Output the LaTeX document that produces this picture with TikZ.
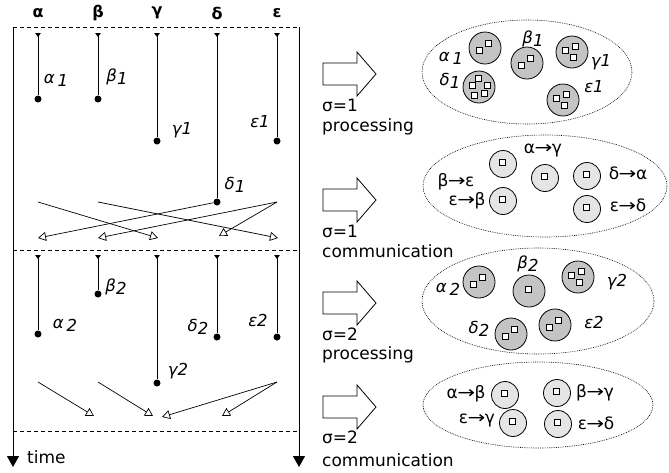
\documentclass[tikz,border=0pt]{standalone}
\usepackage{fontspec}
\setmainfont{DejaVu Sans}
\usetikzlibrary{arrows.meta}

\definecolor{procfill}{gray}{0.77}
\definecolor{commfill}{gray}{0.90}

% a white token square at an offset from a processor's centre
\newcommand\pcsq[3]{\draw[sqr] ([shift={(#2,#3)}]#1.center) +(-3,-3) rectangle +(3,3);}
\newcommand\onesq[1]{\pcsq{#1}{-1}{-2}}
\newcommand\twosq[1]{\pcsq{#1}{-6}{2}\pcsq{#1}{3}{-5}}
\newcommand\threesq[1]{\pcsq{#1}{-7}{-2}\pcsq{#1}{3}{-6}\pcsq{#1}{1}{5}}
\newcommand\fivesq[1]{\pcsq{#1}{-1}{-9}\pcsq{#1}{-7}{-2}\pcsq{#1}{8}{-2}\pcsq{#1}{-5}{8}\pcsq{#1}{5}{6}}
% hollow block arrow centred vertically at #1
\newcommand\blockarrow[1]{\draw[barrow] (323,#1) ++(0,-11) -- ++(34,0) -- ++(0,-11) -- ++(19,22) -- ++(-19,22) -- ++(0,-11) -- ++(-34,0) -- cycle;}
\newcommand\lowsub[1]{\raisebox{-3pt}{#1}}
% message label: source, long arrow, destination
\newcommand\msgto[2]{#1\kern-0.5pt\scalebox{1.25}[1]{→}\kern-0.5pt#2}

\begin{document}
\begin{tikzpicture}[x=1pt,y=-1pt,
  every node/.style={inner sep=0pt},
  frame/.style={line width=1pt,-{Triangle[width=12pt,length=11pt]}},
  phase/.style={line width=0.9pt,dash pattern=on 4pt off 3pt},
  proc/.style={line width=1pt,{Triangle[reversed,width=5.5pt,length=4pt]}-},
  dot/.style={circle,fill=black,minimum size=7pt},
  msg/.style={line width=0.7pt,-{Triangle[open,width=9pt,length=8pt]}},
  hdr/.style={font=\bfseries\fontsize{16}{18}\selectfont},
  lbl/.style={font=\itshape\fontsize{16.5}{18}\selectfont},
  clbl/.style={font=\fontsize{17}{20}\selectfont},
  txt/.style={font=\fontsize{17}{20}\selectfont,anchor=west},
  cloud/.style={line width=0.6pt,dash pattern=on 0.8pt off 1pt},
  pc/.style={circle,draw,line width=0.8pt,fill=procfill,minimum size=32pt},
  cc/.style={circle,draw,line width=0.8pt,fill=commfill,minimum size=27pt},
  sqr/.style={draw,fill=white,line width=0.7pt},
  barrow/.style={draw,line width=0.8pt,fill=white}]
\useasboundingbox (0,0) rectangle (669,472);

% ---------- time lines and phase boundaries ----------
\coordinate (fl0) at (13,27);  \coordinate (fl1) at (13,467);
\coordinate (fr0) at (299,27); \coordinate (fr1) at (299,467);
\draw[frame] (fl0) -- (fl1);
\draw[frame] (fr0) -- (fr1);
\draw[phase] (fl0) -- (fr0);
\coordinate (ml) at (13,250);  \coordinate (mr) at (299,250);
\draw[phase] (ml) -- (mr);
\coordinate (bl) at (13,431);  \coordinate (br) at (299,431);
\draw[phase] (bl) -- (br);
\node[txt] (time) at (27,457) {time};

% ---------- column headers ----------
\node[hdr] (ha) at (38,13) {α};
\node[hdr] (hb) at (98,13) {β};
\node[hdr] (hg) at (157,13) {γ};
\node[hdr] (hd) at (217,13) {δ};
\node[hdr] (he) at (277,13) {ε};

% ---------- superstep 1: processing ----------
\coordinate (a1s) at (38,33);  \node[dot] (a1e) at (38,99) {};
\coordinate (b1s) at (98,33);  \node[dot] (b1e) at (98,99) {};
\coordinate (g1s) at (157,33); \node[dot] (g1e) at (157,141) {};
\coordinate (d1s) at (217,33); \node[dot] (d1e) at (217,202) {};
\coordinate (e1s) at (277,33); \node[dot] (e1e) at (277,141) {};
\draw[proc] (a1s) -- (a1e);
\draw[proc] (b1s) -- (b1e);
\draw[proc] (g1s) -- (g1e);
\draw[proc] (d1s) -- (d1e);
\draw[proc] (e1s) -- (e1e);
\node[lbl] (la1) at (56,80) {α\,\lowsub{1}};
\node[lbl] (lb1) at (117,77) {β\lowsub{1}};
\node[lbl] (lg1) at (182,130) {γ1};
\node[lbl] (le1) at (260,122) {ε1};
\node[lbl] (ld1) at (235,185) {δ\lowsub{1}};

% ---------- superstep 1: communication ----------
\coordinate (m1a) at (38,202);
\coordinate (m1b) at (98,202);
\coordinate (m1e) at (277,202);
\coordinate (t1a) at (38,238);
\coordinate (t1b) at (98,238);
\coordinate (t1g) at (158,238);
\coordinate (t1d) at (219,236);
\coordinate (t1e) at (278,238);
\draw[msg] (m1a) -- (t1g);
\draw[msg] (m1b) -- (t1e);
\draw[msg] (d1e) -- (t1a);
\draw[msg] (m1e) -- (t1b);
\draw[msg] (m1e) -- (t1d);

% ---------- superstep 2: processing ----------
\coordinate (a2s) at (38,255);  \node[dot] (a2e) at (38,334) {};
\coordinate (b2s) at (98,255);  \node[dot] (b2e) at (98,294) {};
\coordinate (g2s) at (157,255); \node[dot] (g2e) at (157,383) {};
\coordinate (d2s) at (217,255); \node[dot] (d2e) at (217,337) {};
\coordinate (e2s) at (277,255); \node[dot] (e2e) at (277,337) {};
\draw[proc] (a2s) -- (a2e);
\draw[proc] (b2s) -- (b2e);
\draw[proc] (g2s) -- (g2e);
\draw[proc] (d2s) -- (d2e);
\draw[proc] (e2s) -- (e2e);
\node[lbl] (lb2) at (116,287) {β\lowsub{2}};
\node[lbl] (la2) at (65,325) {α\,\lowsub{2}};
\node[lbl] (ld2) at (198,327) {δ\lowsub{2}};
\node[lbl] (le2) at (258,320) {ε2};
\node[lbl] (lg2) at (178,371) {γ2};

% ---------- superstep 2: communication ----------
\coordinate (m2a) at (38,382);
\coordinate (m2b) at (98,382);
\coordinate (m2e) at (277,382);
\coordinate (t2b) at (94,416);
\coordinate (t2g) at (153,416);
\coordinate (t2gg) at (162,417);
\coordinate (t2d) at (222,416);
\draw[msg] (m2a) -- (t2b);
\draw[msg] (m2b) -- (t2g);
\draw[msg] (m2e) -- (t2gg);
\draw[msg] (m2e) -- (t2d);

% ---------- phase arrows and captions ----------
\blockarrow{74}
\blockarrow{200}
\blockarrow{303}
\blockarrow{407}
\node[txt] (s1p) at (322,105) {σ=1};
\node[txt] (s1pt) at (322,127) {processing};
\node[txt] (s1c) at (322,231) {σ=1};
\node[txt] (s1ct) at (322,251) {communication};
\node[txt] (s2p) at (322,334) {σ=2};
\node[txt] (s2pt) at (322,355) {processing};
\node[txt] (s2c) at (322,437) {σ=2};
\node[txt] (s2ct) at (322,460) {communication};

% ---------- superstep 1: processors at work ----------
\draw[cloud] (527,72) ellipse [x radius=105, y radius=52];
\node[pc] (pa1) at (485,48) {}; \twosq{pa1}
\node[pc] (pb1) at (527,63) {}; \twosq{pb1}
\node[pc] (pg1) at (572,52) {}; \threesq{pg1}
\node[pc] (pd1) at (479,87) {}; \fivesq{pd1}
\node[pc] (pe1) at (563,100) {}; \threesq{pe1}
\node[lbl] (qa1) at (451,58) {α\,\lowsub{1}};
\node[lbl] (qb1) at (533,39) {β\lowsub{1}};
\node[lbl] (qg1) at (601,62) {γ1};
\node[lbl] (qd1) at (450,81) {δ\lowsub{1}};
\node[lbl] (qe1) at (594,87) {ε1};

% ---------- superstep 1: messages in transit ----------
\draw[cloud] (545,186) ellipse [x radius=122, y radius=51];
\node[cc] (cbe) at (503,164) {}; \onesq{cbe}
\node[cc] (cag) at (545,178) {}; \onesq{cag}
\node[cc] (cda) at (587,176) {}; \onesq{cda}
\node[cc] (ceb) at (503,201) {}; \onesq{ceb}
\node[cc] (ced) at (587,209) {}; \onesq{ced}
\node[clbl] (kbe) at (456,182) {\msgto{β}{ε}};
\node[clbl] (kag) at (543,151) {\msgto{α}{γ}};
\node[clbl] (kda) at (628,173) {\msgto{δ}{α}};
\node[clbl] (keb) at (467,201) {\msgto{ε}{β}};
\node[clbl] (ked) at (628,205) {\msgto{ε}{δ}};

% ---------- superstep 2: processors at work ----------
\draw[cloud] (538,301) ellipse [x radius=116, y radius=53];
\node[pc] (pa2) at (479,282) {}; \twosq{pa2}
\node[pc] (pb2) at (529,291) {}; \onesq{pb2}
\node[pc] (pg2) at (578,277) {}; \threesq{pg2}
\node[pc] (pd2) at (511,334) {}; \twosq{pd2}
\node[pc] (pe2) at (555,325) {}; \twosq{pe2}
\node[lbl] (qa2) at (448,289) {α\,\lowsub{2}};
\node[lbl] (qb2) at (528,264) {β\lowsub{2}};
\node[lbl] (qg2) at (617,282) {γ2};
\node[lbl] (qd2) at (479,329) {δ\lowsub{2}};
\node[lbl] (qe2) at (594,322) {ε2};

% ---------- superstep 2: messages in transit ----------
\draw[cloud] (538,405) ellipse [x radius=115, y radius=43];
\node[cc] (cab) at (505,395) {}; \onesq{cab}
\node[cc] (cbg) at (557,393) {}; \onesq{cbg}
\node[cc] (ceg) at (513,423) {}; \onesq{ceg}
\node[cc] (ced2) at (558,424) {}; \onesq{ced2}
\node[clbl] (kab) at (466,394) {\msgto{α}{β}};
\node[clbl] (kbg) at (595,393) {\msgto{β}{γ}};
\node[clbl] (keg) at (477,420) {\msgto{ε}{γ}};
\node[clbl] (ked2) at (596,423) {\msgto{ε}{δ}};
\end{tikzpicture}
\end{document}
